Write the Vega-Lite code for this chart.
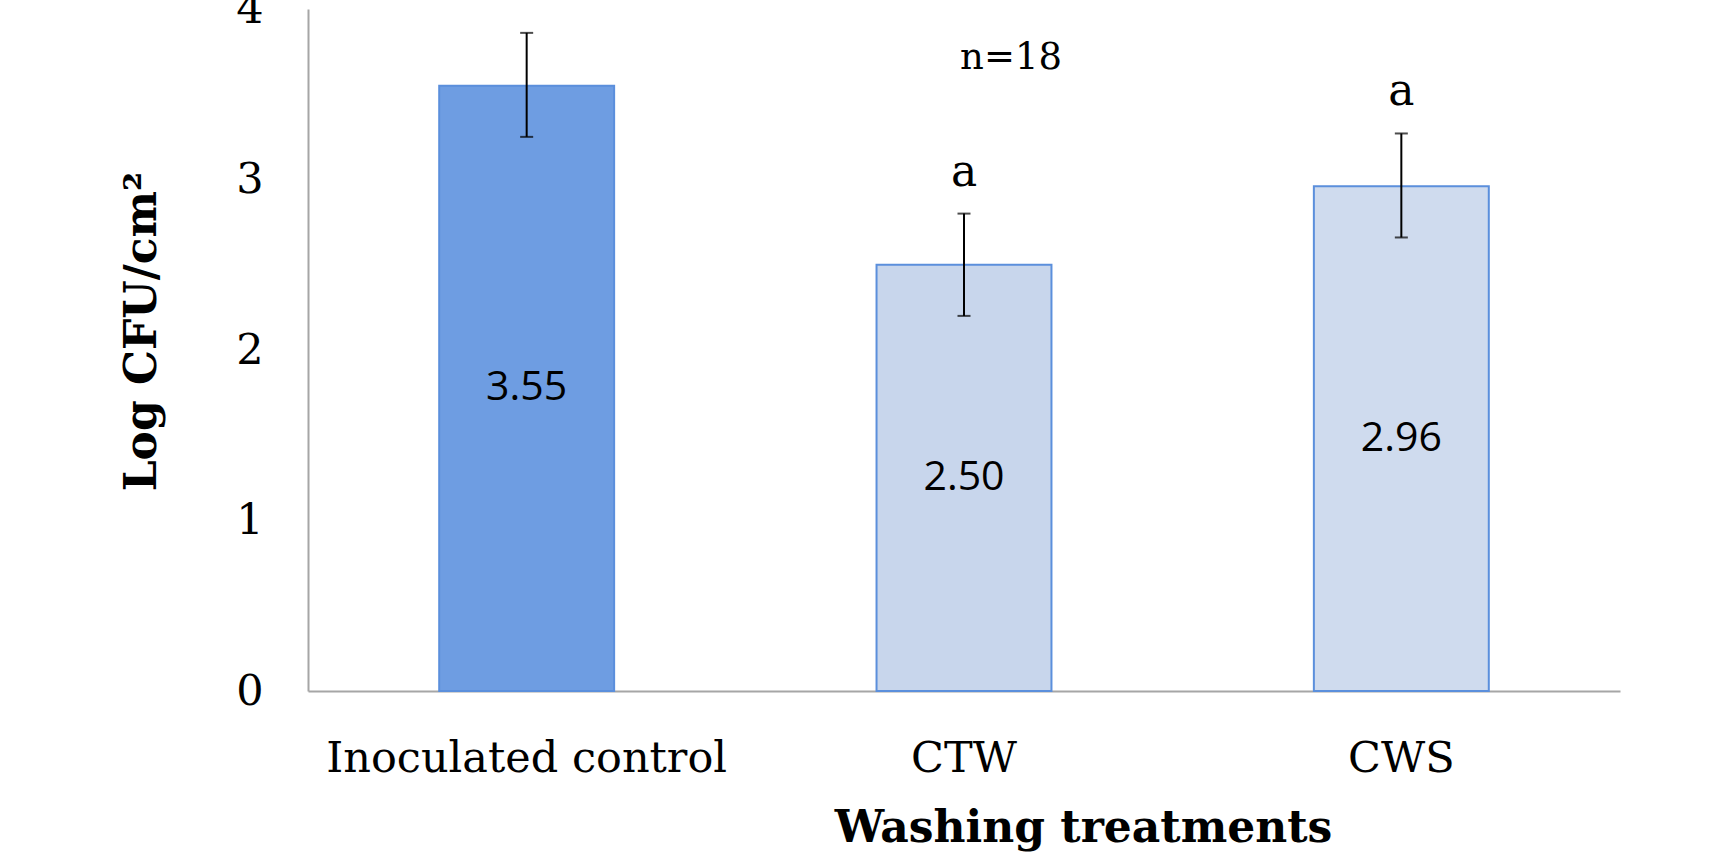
{
  "$schema": "https://vega.github.io/schema/vega-lite/v6.json",
  "width": 1312,
  "height": 682,
  "autosize": {"type": "none"},
  "padding": {"left": 308, "top": 9, "right": 100, "bottom": 167},
  "background": "white",
  "config": {"view": {"stroke": null}},
  "data": {
    "values": [
      {"treatment": "Inoculated control", "mean": 3.55, "lo": 3.25, "hi": 3.86, "label": "3.55", "letter": ""},
      {"treatment": "CTW", "mean": 2.50, "lo": 2.20, "hi": 2.80, "label": "2.50", "letter": "a"},
      {"treatment": "CWS", "mean": 2.96, "lo": 2.66, "hi": 3.27, "label": "2.96", "letter": "a"}
    ]
  },
  "encoding": {
    "x": {
      "field": "treatment",
      "type": "nominal",
      "sort": null,
      "scale": {"paddingInner": 0.6, "paddingOuter": 0.3},
      "axis": {
        "title": "Washing treatments",
        "titleFont": "DejaVu Serif",
        "titleFontSize": 44,
        "titleFontWeight": "bold",
        "titleColor": "black",
        "titleX": 775,
        "titleY": 150,
        "titleBaseline": "alphabetic",
        "titleAlign": "center",
        "labelFont": "DejaVu Serif",
        "labelFontSize": 43,
        "labelColor": "black",
        "labelAngle": 0,
        "labelBaseline": "alphabetic",
        "labelPadding": 80,
        "labelLimit": 1000,
        "labelOverlap": false,
        "ticks": false,
        "tickSize": 0,
        "domainColor": "#a6a6a6",
        "domainWidth": 2,
        "grid": false
      }
    }
  },
  "layer": [
    {
      "layer": [
        {
          "mark": {"type": "bar", "stroke": "#5b8fdc", "strokeWidth": 2},
          "encoding": {
            "y": {
              "field": "mean",
              "type": "quantitative",
              "scale": {"domain": [0, 4]},
              "axis": {
                "title": "Log CFU/cm²",
                "titleFont": "DejaVu Serif",
                "titleFontSize": 44,
                "titleFontWeight": "bold",
                "titleColor": "black",
                "titleAngle": 270,
                "titleX": -153,
                "titleY": 322,
                "titleBaseline": "alphabetic",
                "titleAlign": "center",
                "values": [0, 1, 2, 3, 4],
                "format": "d",
                "labelFont": "DejaVu Serif",
                "labelFontSize": 43,
                "labelColor": "black",
                "labelBaseline": "middle",
                "labelPadding": 45,
                "labelOverlap": false,
                "ticks": false,
                "tickSize": 0,
                "domainColor": "#a6a6a6",
                "domainWidth": 2,
                "grid": false
              }
            },
            "fill": {
              "field": "treatment",
              "type": "nominal",
              "sort": null,
              "scale": {
                "domain": ["Inoculated control", "CTW", "CWS"],
                "range": ["#6e9de2", "#c8d6ec", "#cfdbee"]
              },
              "legend": null
            }
          }
        },
        {
          "mark": {"type": "rule", "color": "black", "strokeWidth": 2},
          "encoding": {
            "y": {"field": "lo", "type": "quantitative"},
            "y2": {"field": "hi"}
          }
        },
        {
          "mark": {"type": "tick", "color": "black", "thickness": 2, "size": 13},
          "encoding": {"y": {"field": "lo", "type": "quantitative"}}
        },
        {
          "mark": {"type": "tick", "color": "black", "thickness": 2, "size": 13},
          "encoding": {"y": {"field": "hi", "type": "quantitative"}}
        },
        {
          "mark": {"type": "text", "font": "DejaVu Serif", "fontSize": 44, "color": "black", "baseline": "alphabetic", "align": "center", "dy": -28},
          "encoding": {
            "y": {"field": "hi", "type": "quantitative"},
            "text": {"field": "letter"}
          }
        },
        {
          "data": {"values": [{"note": "n=18"}]},
          "mark": {"type": "text", "font": "DejaVu Serif", "fontSize": 37, "color": "black", "baseline": "middle", "align": "center", "dx": 47},
          "encoding": {
            "x": {"datum": "CTW"},
            "y": {"datum": 3.71, "type": "quantitative"},
            "text": {"field": "note"}
          }
        }
      ]
    },
    {
      "mark": {"type": "text", "font": "Open Sans", "fontSize": 41, "color": "black", "baseline": "middle", "align": "center"},
      "encoding": {
        "y": {"field": "mean", "type": "quantitative", "scale": {"domain": [0, 8]}, "axis": null},
        "text": {"field": "label"}
      }
    }
  ],
  "resolve": {"scale": {"y": "independent"}}
}
